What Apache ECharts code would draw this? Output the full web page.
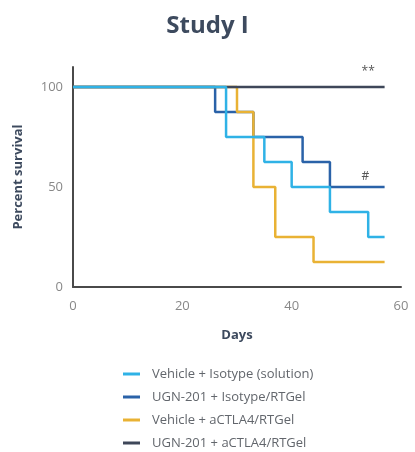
<!DOCTYPE html>
<html>
<head>
<meta charset="utf-8">
<script src="https://cdn.jsdelivr.net/npm/echarts@6/dist/echarts.min.js"></script>
<style>
html, body { margin: 0; padding: 0; background: #fff; }
#chart { width: 415px; height: 452px; }
</style>
</head>
<body>
<div id="chart"></div>
<script>
// survival steps: day of each drop, percent survival after it
const vehIsoDays = [0, 28, 35, 40, 47, 54, 57];
const vehIsoPct  = [100, 75, 62.5, 50, 37.5, 25, 25];
const ugnIsoDays = [0, 26, 33, 42, 47, 57];
const ugnIsoPct  = [100, 87.5, 75, 62.5, 50, 50];
const vehCtlaDays = [0, 30, 33, 37, 44, 57];
const vehCtlaPct  = [100, 87.5, 50, 25, 12.5, 12.5];
const ugnCtlaDays = [0, 57];
const ugnCtlaPct  = [100, 100];

const names = [
    'Vehicle + Isotype (solution)',
    'UGN-201 + Isotype/RTGel',
    'Vehicle + aCTLA4/RTGel',
    'UGN-201 + aCTLA4/RTGel'
];
const colors = ['#2fb2e6', '#2a62a8', '#e9b234', '#3e4759'];
const xTicks = [0, 20, 40, 60];

const pairs = (xs, ys) => xs.map((x, i) => [x, ys[i]]);

const font = '"Open Sans", sans-serif';
const chart = echarts.init(document.getElementById('chart'));

const mkLine = (idx, data, extra) => Object.assign({
    name: names[idx],
    type: 'line',
    step: 'end',
    showSymbol: false,
    symbol: 'none',
    lineStyle: { color: colors[idx], width: 2.5 },
    itemStyle: { color: colors[idx] },
    data: data
}, extra || {});

chart.setOption({
    animation: false,
    title: {
        text: 'Study I',
        left: 'center',
        top: 9,
        textStyle: { fontFamily: font, fontSize: 24, fontWeight: 'bold', color: '#3d4a5e' }
    },
    legend: {
        orient: 'vertical',
        left: 123,
        top: 366,
        padding: 0,
        itemGap: 7,
        itemWidth: 17,
        itemHeight: 3,
        icon: 'rect',
        data: names,
        textStyle: { fontFamily: font, fontSize: 13, color: '#62666c', lineHeight: 16, padding: [0, 0, 0, 7] }
    },
    grid: { left: 73, right: 14, top: 67, bottom: 165 },
    xAxis: {
        type: 'value',
        min: 0,
        max: 60,
        interval: 20,
        name: 'Days',
        nameLocation: 'middle',
        nameGap: 42,
        nameTextStyle: { fontFamily: font, fontSize: 13, fontWeight: 'bold', color: '#3d4a5e' },
        axisLine: { lineStyle: { color: '#4a4a4a', width: 2 } },
        axisTick: { show: false },
        splitLine: { show: false },
        axisLabel: {
            margin: 13,
            fontFamily: font, fontSize: 13, color: '#888',
            formatter: v => xTicks.includes(v) ? String(v) : ''
        }
    },
    yAxis: {
        type: 'value',
        min: 0,
        max: 110,
        interval: 50,
        name: 'Percent survival',
        nameLocation: 'middle',
        nameGap: 48,
        nameTextStyle: { fontFamily: font, fontSize: 13, fontWeight: 'bold', color: '#3d4a5e' },
        axisLine: { show: true, lineStyle: { color: '#4a4a4a', width: 2 } },
        axisTick: { show: false },
        splitLine: { show: false },
        axisLabel: { margin: 10, fontFamily: font, fontSize: 13, color: '#888', showMaxLabel: false }
    },
    // draw order: dark blue, orange, grey, light blue (light blue on top)
    series: [
        mkLine(1, pairs(ugnIsoDays, ugnIsoPct), {
            markPoint: {
                symbol: 'circle', symbolSize: 0,
                label: { show: true, formatter: '#', color: '#555', fontFamily: font, fontSize: 12 },
                data: [{ coord: [53.5, 55] }]
            }
        }),
        mkLine(2, pairs(vehCtlaDays, vehCtlaPct)),
        mkLine(3, pairs(ugnCtlaDays, ugnCtlaPct), {
            markPoint: {
                symbol: 'circle', symbolSize: 0,
                label: { show: true, formatter: '**', color: '#555', fontFamily: font, fontSize: 12 },
                data: [{ coord: [54, 107.5] }]
            }
        }),
        mkLine(0, pairs(vehIsoDays, vehIsoPct))
    ]
});
</script>
</body>
</html>
